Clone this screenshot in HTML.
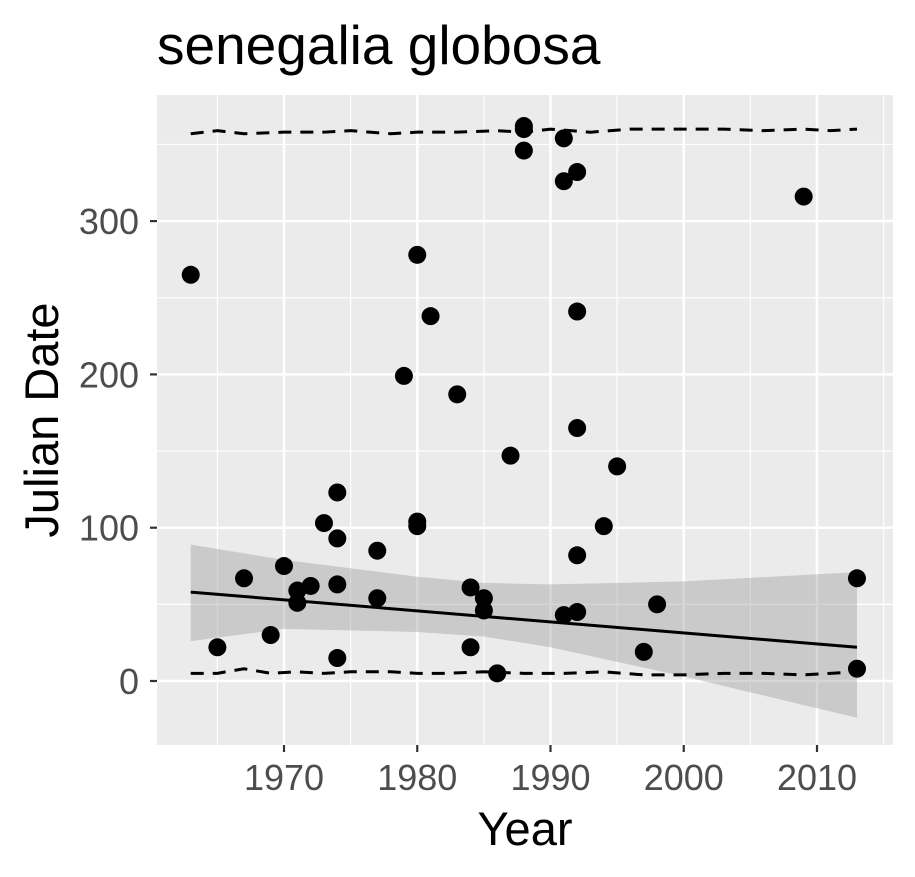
<!DOCTYPE html>
<html><head><meta charset="utf-8">
<style>
body{margin:0;background:#fff;}
svg{display:block;font-family:"Liberation Sans",Arial,sans-serif;}
</style></head>
<body>
<svg id="chart" width="915" height="877" viewBox="0 0 915 877">
<text x="157" y="64" font-size="55" fill="#000">senegalia globosa</text>
<rect x="157" y="95" width="736" height="650" fill="#EBEBEB"/>
<g id="grid"></g>
<g id="ribbon"></g>
<g id="lines"></g>
<g id="points"></g>
<g id="axes"></g>
<text x="525" y="845" font-size="47" text-anchor="middle" fill="#000">Year</text>
<text transform="translate(58,420) rotate(-90)" font-size="47" text-anchor="middle" fill="#000">Julian Date</text>
</svg>
<script>
const pointYears=[1963,1965,1967,1969,1970,1971,1971,1972,1973,1974,1974,1974,1974,1977,1977,1979,1980,1980,1980,1981,1983,1984,1984,1985,1985,1986,1987,1988,1988,1988,1991,1991,1991,1992,1992,1992,1992,1992,1994,1995,1997,1998,2009,2013,2013];
const pointDates=[265,22,67,30,75,59,51,62,103,123,93,63,15,85,54,199,278,104,101,238,187,61,22,54,46,5,147,362,360,346,354,326,43,332,241,165,82,45,101,140,19,50,316,67,8];
const fitYears=[1963,2013];
const fitValues=[58,22];
const ribbonYears=[1963,1970,1980,1985,1990,2000,2013];
const ribbonUpper=[89,79,68,64,63,65,71];
const ribbonLower=[26,34,32,29,22,3,-24];
const upperYears=[1963,1965,1967,1970,1973,1975,1978,1980,1983,1986,1988,1990,1993,1996,2000,2003,2006,2009,2011,2013];
const upperValues=[357,359,357,358,358,359,357,358,358,359,358,360,358,360,360,360,359,360,359,360];
const lowerYears=[1963,1965,1967,1969,1971,1973,1975,1978,1980,1982,1985,1988,1991,1994,1997,2000,2003,2006,2009,2011,2013];
const lowerValues=[5,5,8,5,6,5,6,6,5,5,6,5,5,6,4,4,5,5,4,5,6];
const xTicks=[1970,1980,1990,2000,2010];
const yTicks=[0,100,200,300];
const xMinor=[1965,1975,1985,1995,2005,2015];
const yMinor=[-50,50,150,250,350];

const NS="http://www.w3.org/2000/svg";
const X0=157,X1=893,Y0=95,Y1=745;
const xs=v=>284+(v-1970)*13.325;
const ys=v=>681-v*1.533;
function mk(tag,attrs,parent){const e=document.createElementNS(NS,tag);for(const k in attrs)e.setAttribute(k,attrs[k]);parent.appendChild(e);return e;}
const grid=document.getElementById('grid');
xMinor.forEach(v=>{const x=xs(v);if(x<X0||x>X1)return;const l=mk('line',{x1:x,x2:x,y1:Y0,y2:Y1,stroke:'#fff','stroke-width':1.2},grid);

});
yMinor.forEach(v=>{const y=ys(v);const l=mk('line',{x1:X0,x2:X1,y1:y,y2:y,stroke:'#fff','stroke-width':1.2},grid);

});
xTicks.forEach(v=>{const x=xs(v);const l=mk('line',{x1:x,x2:x,y1:Y0,y2:Y1,stroke:'#fff','stroke-width':2.5},grid);

});
yTicks.forEach(v=>{const y=ys(v);const l=mk('line',{x1:X0,x2:X1,y1:y,y2:y,stroke:'#fff','stroke-width':2.5},grid);

});
const axes=document.getElementById('axes');
xTicks.forEach(v=>{const x=xs(v);
const t=mk('line',{x1:x,x2:x,y1:Y1,y2:Y1+7,stroke:'#333','stroke-width':2.2},axes);


const l=mk('text',{x:x,y:790,'font-size':36,'text-anchor':'middle',fill:'#4D4D4D'},axes);l.textContent=v;

});
yTicks.forEach(v=>{const y=ys(v);
const t=mk('line',{x1:X0-7,x2:X0,y1:y,y2:y,stroke:'#333','stroke-width':2.2},axes);


const l=mk('text',{x:139,y:y+13,'font-size':36,'text-anchor':'end',fill:'#4D4D4D'},axes);l.textContent=v;

});
let d='M'+ribbonYears.map((yr,i)=>xs(yr)+','+ys(ribbonUpper[i])).join('L');
for(let i=ribbonYears.length-1;i>=0;i--)d+='L'+xs(ribbonYears[i])+','+ys(ribbonLower[i]);
const rb=mk('path',{d:d+'Z',fill:'#999','fill-opacity':0.4},document.getElementById('ribbon'));


const lines=document.getElementById('lines');
const fit=mk('path',{d:'M'+fitYears.map((yr,i)=>xs(yr)+','+ys(fitValues[i])).join('L'),stroke:'#000','stroke-width':3,fill:'none'},lines);


const up=mk('path',{d:'M'+upperYears.map((yr,i)=>xs(yr)+','+ys(upperValues[i])).join('L'),stroke:'#000','stroke-width':3,fill:'none','stroke-dasharray':'13,9'},lines);


const lo=mk('path',{d:'M'+lowerYears.map((yr,i)=>xs(yr)+','+ys(lowerValues[i])).join('L'),stroke:'#000','stroke-width':3,fill:'none','stroke-dasharray':'13,9'},lines);


const pts=document.getElementById('points');
pointYears.forEach((yr,i)=>{const c=mk('circle',{cx:xs(yr),cy:ys(pointDates[i]),r:9,fill:'#000'},pts);

});
</script>
</body></html>
